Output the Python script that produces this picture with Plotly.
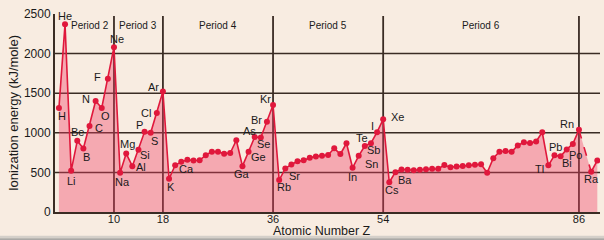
import plotly.graph_objects as go

# ---------------- data ----------------
period_bounds = [2, 10, 18, 36, 54, 86]          # last Z of each period (noble gases)
period_names = ["Period 2", "Period 3", "Period 4", "Period 5", "Period 6"]
x_ticks = [10, 18, 36, 54, 86]
y_ticks = [0, 500, 1000, 1500, 2000, 2500]
grid_y = [500, 1000, 1500, 2000]

symbols = ["H", "He",
           "Li", "Be", "B", "C", "N", "O", "F", "Ne",
           "Na", "Mg", "Al", "Si", "P", "S", "Cl", "Ar",
           "K", "Ca", "Sc", "Ti", "V", "Cr", "Mn", "Fe", "Co", "Ni", "Cu", "Zn",
           "Ga", "Ge", "As", "Se", "Br", "Kr",
           "Rb", "Sr", "Y", "Zr", "Nb", "Mo", "Tc", "Ru", "Rh", "Pd", "Ag", "Cd",
           "In", "Sn", "Sb", "Te", "I", "Xe",
           "Cs", "Ba", "La", "Ce", "Pr", "Nd", "Pm", "Sm", "Eu", "Gd", "Tb", "Dy",
           "Ho", "Er", "Tm", "Yb", "Lu", "Hf", "Ta", "W", "Re", "Os", "Ir", "Pt",
           "Au", "Hg", "Tl", "Pb", "Bi", "Po", "At", "Rn",
           "Ra", "Ac"]
Z = list(range(1, 87)) + [88, 89]

ie_p1_p2 = [1312, 2372, 520, 899, 801, 1086, 1402, 1314, 1681, 2081]
ie_p3 = [496, 738, 578, 786, 1012, 1000, 1251, 1521]
ie_p4 = [419, 590, 633, 659, 651, 653, 717, 762, 760, 737, 745, 906,
         579, 762, 947, 941, 1140, 1351]
ie_p5 = [403, 550, 600, 640, 652, 684, 702, 710, 720, 804, 731, 868,
         558, 709, 834, 869, 1008, 1170]
ie_p6 = [376, 503, 538, 534, 527, 533, 540, 545, 547, 593, 566, 573,
         581, 589, 597, 603, 495, 680, 761, 770, 760, 840, 880, 870,
         890, 1007, 589, 716, 703, 790, 860, 1037]
ie_p7 = [509, 650]
IE = ie_p1_p2 + ie_p3 + ie_p4 + ie_p5 + ie_p6 + ie_p7

# label offsets in pixels (style): symbol -> (xshift, yshift)
label_offsets = {
    "H": (3, -8), "He": (0, 8), "Li": (0, -10), "Be": (0, 9), "B": (3, -8),
    "C": (9, -2), "N": (-10, 2), "O": (4, -8), "F": (-10, 2), "Ne": (3, 8),
    "Na": (2, -9), "Mg": (1, 10), "Al": (9, -1), "Si": (7, -5), "P": (-5, 7),
    "S": (4, -8), "Cl": (-11, 0), "Ar": (-9, 5), "K": (2, -8), "Ca": (11, -4),
    "Ga": (0, -8), "Ge": (10, -5), "As": (-5, 6), "Se": (3, -7), "Br": (-10, 2),
    "Kr": (-8, 6), "Rb": (5, -7), "Sr": (9, -8), "In": (0, -9), "Sn": (13, -8),
    "Sb": (9, -4), "Te": (-9, 5), "I": (-5, 6), "Xe": (14, 2), "Cs": (3, -8),
    "Ba": (10, -8), "Tl": (-9, -4), "Pb": (1, 8), "Bi": (6, -7), "Po": (9, -6),
    "Rn": (-12, 6), "Ra": (0, -7),
}

# ---------------- styles ----------------
BG = "#f8ece1"
RED = "#e0183c"
FILL = "rgba(240,60,100,0.38)"
DARK = "#3a2c24"
FONT = "Liberation Sans, Arial, sans-serif"

i_rn = Z.index(86)
i_ra = Z.index(88)

fig = go.Figure()

# filled area
fig.add_trace(go.Scatter(x=Z, y=IE, mode="none", fill="tozeroy",
                         fillcolor=FILL, hoverinfo="skip", showlegend=False))
# solid line up to Rn
fig.add_trace(go.Scatter(x=Z[:i_rn + 1], y=IE[:i_rn + 1], mode="lines+markers",
                         line=dict(color=RED, width=1.6),
                         marker=dict(color=RED, size=6), showlegend=False,
                         text=symbols[:i_rn + 1]))
# dashed Rn -> Ra (Fr missing)
fig.add_trace(go.Scatter(x=Z[i_rn:i_ra + 1], y=IE[i_rn:i_ra + 1], mode="lines",
                         line=dict(color=RED, width=1.6, dash="dash"),
                         showlegend=False))
# Ra -> Ac
fig.add_trace(go.Scatter(x=Z[i_ra:], y=IE[i_ra:], mode="lines+markers",
                         line=dict(color=RED, width=1.6),
                         marker=dict(color=RED, size=6), showlegend=False,
                         text=symbols[i_ra:]))

shapes = []
for gy in grid_y:
    shapes.append(dict(type="line", xref="paper", yref="y", x0=0, x1=1, y0=gy, y1=gy,
                       line=dict(color=DARK, width=1.5), layer="below"))
for gx in x_ticks:
    shapes.append(dict(type="line", xref="x", yref="paper", x0=gx, x1=gx, y0=0, y1=0.99,
                       line=dict(color=DARK, width=1.8), layer="below"))
# bottom shadow strip
shapes.append(dict(type="rect", xref="paper", yref="paper", x0=-0.12, x1=1.02,
                   y0=-0.12, y1=-0.133, fillcolor="#d4cfc9", line=dict(width=0)))
shapes.append(dict(type="rect", xref="paper", yref="paper", x0=-0.12, x1=1.02,
                   y0=-0.133, y1=-0.16, fillcolor="#aaa8a6", line=dict(width=0)))

annotations = []
for z, v, s in zip(Z, IE, symbols):
    if s in label_offsets:
        dx, dy = label_offsets[s]
        annotations.append(dict(x=z, y=v, text=s, showarrow=False,
                                xshift=dx, yshift=dy,
                                font=dict(size=11, color="#1a1a1a", family=FONT)))
for k, name in enumerate(period_names):
    mid = (period_bounds[k] + period_bounds[k + 1]) / 2
    annotations.append(dict(x=mid, y=0.94, xref="x", yref="paper", text=name,
                            showarrow=False, yanchor="middle",
                            font=dict(size=10, color="#1a1a1a", family=FONT)))
# x axis title
annotations.append(dict(x=0.49, y=-0.094, xref="paper", yref="paper",
                        text="Atomic Number Z", showarrow=False, yanchor="middle",
                        font=dict(size=12.5, color="#1a1a1a", family=FONT)))

fig.update_layout(
    width=604, height=240,
    margin=dict(l=55, r=4, t=14, b=28),
    paper_bgcolor=BG, plot_bgcolor=BG,
    font=dict(family=FONT, color="#1a1a1a"),
    shapes=shapes, annotations=annotations,
    xaxis=dict(range=[0.36, 89.44], tickvals=x_ticks, ticktext=[str(t) for t in x_ticks],
               showgrid=False, zeroline=False, showline=True, linecolor=DARK, linewidth=2,
               ticks="", ticklabelstandoff=-4, tickfont=dict(size=11, color="#1a1a1a")),
    yaxis=dict(range=[0, 2500], tickvals=y_ticks, showgrid=False, zeroline=False,
               showline=True, linecolor=DARK, linewidth=2, ticks="",
               tickfont=dict(size=12, color="#1a1a1a"),
               title=dict(text="Ionization energy (kJ/mole)",
                          font=dict(size=13, color="#1a1a1a"), standoff=2)),
)

fig.write_html("out.html")
